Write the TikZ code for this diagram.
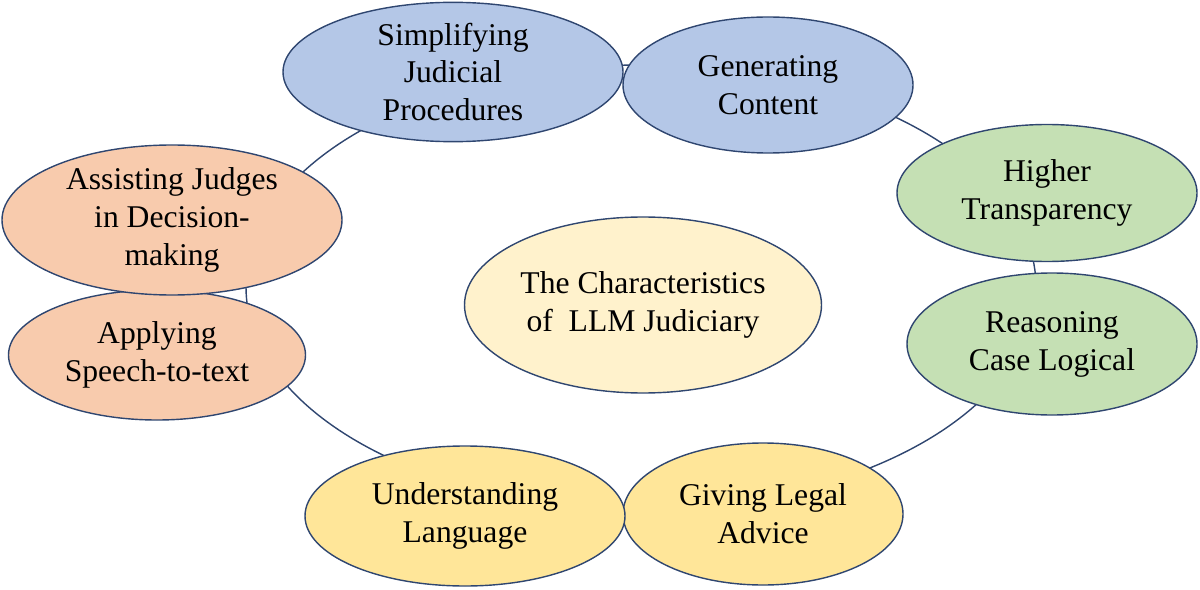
\documentclass[tikz,border=0pt]{standalone}
\usepackage{fontspec}
\setmainfont{Liberation Serif}
\usetikzlibrary{shapes.geometric}
\definecolor{edge}{HTML}{2F4670}
\definecolor{blue}{HTML}{B4C7E7}
\definecolor{green}{HTML}{C5E0B4}
\definecolor{orange}{HTML}{F8CBAD}
\definecolor{yellow}{HTML}{FFE699}
\definecolor{cream}{HTML}{FFF2CC}
\begin{document}
\begin{tikzpicture}[x=0.025cm,y=-0.025cm,
  el/.style={ellipse,draw=edge,line width=1pt,inner sep=0pt,align=center,font=\fontsize{22.5}{27}\selectfont},
  ring/.style={draw=edge,line width=1pt}]
\useasboundingbox (0,0) rectangle (1200,590);
\coordinate (rc) at (641,287);
\draw[ring] (rc) ellipse [x radius=395, y radius=222];
\node[el,fill=blue,minimum width=340*0.025cm,minimum height=136*0.025cm] (simp) at (453,72) {Simplifying\\Judicial\\Procedures};
\node[el,fill=blue,minimum width=290*0.025cm,minimum height=136*0.025cm] (gen) at (768,85) {Generating\\Content};
\node[el,fill=green,minimum width=300*0.025cm,minimum height=137*0.025cm] (trans) at (1047,193) {Higher\\Transparency};
\node[el,fill=green,minimum width=290*0.025cm,minimum height=142*0.025cm] (reas) at (1052,344) {Reasoning\\Case Logical};
\node[el,fill=yellow,minimum width=280*0.025cm,minimum height=142*0.025cm] (give) at (763,514) {Giving Legal\\Advice};
\node[el,fill=yellow,minimum width=320*0.025cm,minimum height=140*0.025cm] (und) at (465,516) {Understanding\\Language};
\node[el,fill=orange,minimum width=297*0.025cm,minimum height=130*0.025cm] (app) at (157,355) {Applying\\Speech-to-text};
\node[el,fill=orange,minimum width=340*0.025cm,minimum height=150*0.025cm] (ass) at (172,220) {Assisting Judges\\in Decision-\\making};
\node[el,fill=cream,minimum width=357*0.025cm,minimum height=176*0.025cm] (core) at (643,305) {The Characteristics\\of\ \ LLM Judiciary};
\end{tikzpicture}
\end{document}
